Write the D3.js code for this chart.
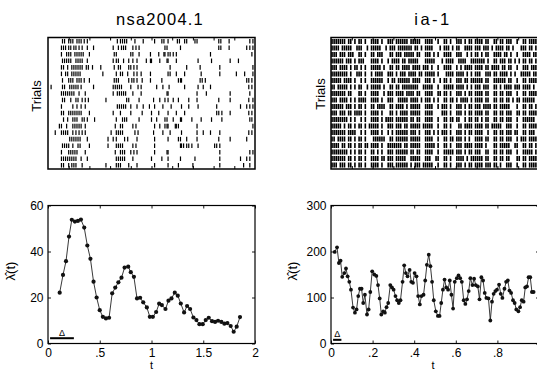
<!DOCTYPE html>
<html>
<head>
<meta charset="utf-8">
<script src="https://cdn.jsdelivr.net/npm/d3@7"></script>
<style>
  body { margin: 0; background: #fff; }
  svg { display: block; background: #fff; }
  text { font-family: "Liberation Sans", Arial, Helvetica, sans-serif; fill: #000; }
</style>
</head>
<body>
<svg id="plot" width="537" height="370"></svg>
<script>
// ---- data ----
const titles = ["nsa2004.1", "ia-1"];

// left raster: spike times (s) per trial
const leftSpikes = [
  [0.14,0.16,0.2,0.22,0.24,0.28,0.3,0.32,0.35,0.38,0.67,0.7,0.72,0.74,0.76,0.84,0.92,1.03,1.1,1.12,1.16,1.25,1.27,1.32,1.34,1.42,1.44,1.65,1.67,1.75,1.95,1.98],
  [0.13,0.15,0.17,0.2,0.22,0.25,0.27,0.3,0.33,0.38,0.44,0.63,0.68,0.71,0.73,0.75,0.82,0.85,0.88,1.13,1.15,1.28,1.65,1.67,1.75,1.92,1.95,1.98],
  [0.13,0.18,0.2,0.22,0.26,0.28,0.3,0.32,0.34,0.4,0.64,0.66,0.8,0.82,0.88,0.99,1.07,1.12,1.13,1.16,1.18,1.21,1.24,1.57,1.97],
  [0.14,0.16,0.18,0.2,0.22,0.27,0.29,0.31,0.33,0.38,0.63,0.66,0.68,0.73,0.78,0.82,0.86,0.95,0.99,1.0,1.08,1.15,1.16,1.24,1.45,1.58,1.76,1.84],
  [0.13,0.15,0.19,0.23,0.25,0.27,0.29,0.31,0.33,0.37,0.39,0.43,0.51,0.64,0.68,0.7,0.78,0.8,0.83,0.86,1.18,1.34,1.47,1.66,1.98],
  [0.13,0.17,0.19,0.23,0.25,0.27,0.29,0.31,0.53,0.66,0.7,0.72,0.77,0.83,0.86,0.9,0.99,1.16,1.18,1.24,1.32,1.48,1.66,1.82,1.9,1.98],
  [0.14,0.2,0.22,0.24,0.28,0.3,0.32,0.35,0.4,0.64,0.66,0.68,0.78,0.81,0.83,0.86,0.91,0.99,1.1,1.26,1.28,1.29,1.47,1.49,1.52,1.92,1.94,1.97],
  [0.03,0.14,0.16,0.21,0.23,0.25,0.27,0.29,0.32,0.44,0.63,0.65,0.67,0.69,0.71,0.8,0.87,0.9,1.05,1.11,1.17,1.32,1.45,1.5,1.57,1.94,1.97],
  [0.13,0.15,0.17,0.19,0.21,0.23,0.25,0.3,0.36,0.63,0.67,0.69,0.71,0.73,0.75,0.82,0.9,1.15,1.16,1.44,1.53,1.76,1.95],
  [0.14,0.16,0.22,0.27,0.29,0.33,0.36,0.39,0.56,0.76,0.78,0.88,1.02,1.08,1.13,1.16,1.21,1.26,1.36,1.44,1.65,1.76,1.94,1.98],
  [0.13,0.24,0.28,0.32,0.36,0.67,0.69,0.71,0.73,0.75,0.8,0.86,0.92,0.98,1.03,1.11,1.19,1.29,1.36,1.45,1.63,1.86,1.92,1.95,1.98],
  [0.13,0.15,0.2,0.22,0.24,0.26,0.28,0.3,0.32,0.4,0.63,0.7,0.8,0.91,1.0,1.07,1.16,1.24,1.32,1.63,1.65,1.68,1.76,1.94,1.97],
  [0.15,0.19,0.24,0.26,0.28,0.33,0.35,0.38,0.45,0.66,0.72,0.74,0.76,0.88,1.0,1.05,1.13,1.15,1.21,1.28,1.29,1.39,1.48,1.58,1.68,1.95,1.97],
  [0.11,0.13,0.18,0.24,0.26,0.28,0.3,0.32,0.36,0.65,0.7,0.72,0.82,0.85,1.03,1.08,1.13,1.15,1.16,1.23,1.24,1.26,1.44,1.98],
  [0.07,0.13,0.15,0.17,0.19,0.24,0.27,0.3,0.33,0.36,0.61,0.66,0.68,0.7,0.72,0.84,0.87,1.02,1.11,1.18,1.29,1.44,1.5,1.57,1.66,1.94,1.97],
  [0.21,0.23,0.25,0.27,0.29,0.31,0.38,0.58,0.63,0.66,0.74,0.77,0.86,1.03,1.16,1.26,1.28,1.34,1.44,1.65,1.76,1.92],
  [0.14,0.16,0.18,0.2,0.24,0.29,0.31,0.4,0.58,0.66,0.68,0.7,0.72,0.82,0.85,1.03,1.28,1.29,1.31,1.34,1.36,1.39,1.45,1.61,1.63,1.66],
  [0.13,0.2,0.22,0.24,0.26,0.28,0.36,0.65,0.7,0.72,0.74,0.8,0.83,0.86,1.03,1.15,1.16,1.66,1.95,1.98],
  [0.13,0.15,0.17,0.19,0.21,0.23,0.25,0.27,0.32,0.38,0.66,0.68,0.7,0.72,0.74,0.82,1.0,1.1,1.16,1.28,1.42,1.66,1.86,1.92,1.95],
  [0.13,0.15,0.2,0.23,0.25,0.27,0.33,0.56,0.66,0.68,0.7,0.78,0.86,1.03,1.16,1.26,1.4,1.66,1.89,1.95]
];

// right raster: one character per 10 ms bin, "|" = spike (spaces only group bins)
const rightSpikeBins = [
  "|||||||.|| .|.||.|..| |||.|..||| .||||||.|| |||..||||. .|..||.|.. |||.|.||.| |||.||..|| .||.|||..| ..||.|||||",
  "||||.||||| ..|||..|.| ||||..|.|| |.|||||||. ||.|.||||. ..|.|||.|. ||..||||.| ||.|||.|.| |||.||.|.. .|||.||.||",
  "|||.|||.|| |..||.|..| |.|||...|| .|||.||||| .||..|||.| .|..||||.. |||..|.|.| |.|.||..|| ||.||.|..| ..||||.|||",
  "||||||.||| .|.|||...| |||.|..|.| |||.||.||| ||...||||| ...|.||||. .||||..||| ||||.|..|| .|||.||.|. |.||.||.||",
  "|||.||||.| .||.|.|..| ||||.|..|| .||.||||.| |||.|||.|. .|..||||.. |.|.||||.| |||.||.||| |.||.||..| ..|||.||||",
  "||||||||.| ..|||.|..| .||||..||| .|.|||.||| |.||.||||| .|...||||. ||||.|.|.| ||..|||.|| .||||.|.|. .|||||.|||",
  "|||||.|||| .|..|.|..| |||||..|.| |.||||||.| |||..|||.| ..|.||.|.. |||.||.||| |||.||..|| ||||.||..| ..||.|||||",
  "||.|||||.| .|.||..|.| ||||.|..|| .||.|||||| ||..|||||. .|..|||||. ||||.|.|.| ||.|||..|| .|.||||.|| |.||||.|.|",
  "|||||||.|| ...||.|..| |||..|.||| .||||.|||| .||..||||. .||.||.|.. |||.|.||.| |||.||..|| .||.|||..| ..||.|||||",
  "|||.||||.| .|.||||..| |||.|..||| ..|||||.|| ||.|.|||.| .|..||.||. |.||||.|.| |||.||..|| .||.||.|.| |.||||||.|",
  "||||||.||| .|.||.|..| |.||||..|| .||||.|.|| |||..||||. .|.|||.|.. |||.|.||.| ||.||||.|| .|||||...| ..||.||.||",
  "|||.|||.|| .||||.|..| |||.|...|| .|.||||.|| |||..||||. ...|||.|.. |||.|.||.| |||.||..|| .||.|||..| |.||.|||||",
  "||||||||.| .|..|.|..| |||.|.|||| .||||||.|| .||..||||. .|..||.||. ||..|.||.| |.|.||..|| .||.|||..| ..||||||.|",
  "|||||.|.|| .|.||.|.|| |||.|..||| .|||.||.|| |||.|||||. .|..||.|.. .||.||||.| |||.||.||| ||..|||..| ..||.|||||",
  "|||||||.|| ||..|.|..| |||.|..|.| .||||||.|| |.|..|||.| .|.|||.|.. |||.|.||.| |||..|..|| .||.|||.|| ..||.|||.|",
  "||.||||.|| .|.||.|... ||||||..|| .||||||.|| |||..||||. .|..||.||. |||.|.|..| |||.||..|| .||.|||..| .|||.|||||",
  "||||.||.|| .|.||.||.| |||.|..||| ||||.||.|| |||..||||| .|..||.|.. |||.||||.| |||.|...|| .|||||..|| ..||.||.||",
  "||||||||.| .|.||.|..| |.|.|..||| .||||||.|| .||..||||. .|..|||||. |||.|.||.| ||..||..|| .||.|||..| ..|||||.||",
  "|||||||.|| .|.||.|..| |||.||.||| .|||||..|| |||..|||.. ||..||.|.. ||||.|.||| |||.||..|| .||.||...| |.||.|||||",
  "|||.|||.|| .|.||.|..| |||.|..||| .||||||.|. |||.|||||. .|..||.|.. |||.|.||.| |||.|||.|| .|..|||..| ..||.|||||"
];
const rightBinWidth = 0.01;

// estimated rates, left
const leftT = [0.113,0.145,0.174,0.203,0.23,0.26,0.289,0.318,0.35,0.38,0.41,0.44,0.47,0.5,0.53,0.56,0.59,0.62,0.65,0.68,
  0.71,0.74,0.775,0.8,0.83,0.86,0.89,0.92,0.955,0.984,1.013,1.045,1.074,1.1,1.135,1.164,1.193,1.225,1.254,1.283,
  1.315,1.344,1.373,1.405,1.434,1.463,1.495,1.524,1.553,1.585,1.614,1.643,1.675,1.704,1.733,1.765,1.794,1.823,1.855];
const leftRate = [22.1,29.8,35.8,46.5,53.8,53,53.3,53.9,50.4,42.6,36.8,26.9,20,14.5,11.6,10.9,11.2,21.8,24.3,26.6,
  28.6,33,33.4,31,29,19.6,19.9,17.9,15.7,11.6,11.6,13.7,17.3,16.7,15,18.6,19.6,22.1,20.8,17.4,
  13.5,16.3,15,11.3,10.2,8.4,8.4,10.2,11.2,9.7,9.4,9.9,9.4,8.6,8.9,7.6,5.1,7.3,11.5];

// estimated rates, right
const rightT = [0.018,0.029,0.038,0.046,0.054,0.064,0.072,0.08,0.088,0.096,
  0.106,0.115,0.123,0.131,0.139,0.147,0.155,0.163,0.173,0.181,
  0.189,0.198,0.208,0.218,0.226,0.234,0.242,0.251,0.259,0.267,
  0.275,0.285,0.293,0.301,0.31,0.318,0.326,0.334,0.344,0.352,
  0.36,0.368,0.378,0.386,0.394,0.402,0.411,0.419,0.427,0.435,
  0.445,0.453,0.461,0.47,0.478,0.486,0.494,0.504,0.514,0.522,
  0.53,0.538,0.546,0.554,0.563,0.571,0.579,0.587,0.595,0.605,
  0.613,0.621,0.629,0.638,0.646,0.654,0.662,0.67,0.68,0.688,
  0.696,0.706,0.714,0.723,0.731,0.739,0.747,0.757,0.766,0.774,
  0.782,0.79,0.798,0.808,0.816,0.824,0.834,0.842,0.85,0.858,
  0.866,0.875,0.883,0.891,0.901,0.909,0.917,0.926,0.934,0.942,
  0.95,0.958,0.966,0.974];
const rightRate = [199,209,175,180,145,153,163,146,134,117,
  78,67,74,103,119,119,88,106,63,74,
  112,157,150,147,127,98,63,70,67,79,
  88,127,122,117,103,94,88,94,134,170,
  153,146,160,134,132,153,146,103,85,103,
  106,137,171,193,168,134,94,70,60,60,
  88,117,139,122,117,137,106,76,134,142,
  148,142,134,94,86,96,114,142,127,141,
  127,124,96,144,137,110,99,98,50,91,
  108,114,117,128,108,99,119,134,137,115,
  110,94,88,74,70,79,94,91,122,124,
  144,144,112,112];

const leftXTicks = [0, 0.5, 1, 1.5, 2];
const leftXLabels = ["0", ".5", "1", "1.5", "2"];
const leftYTicks = [0, 20, 40, 60];
const rightXTicks = [0, 0.2, 0.4, 0.6, 0.8];
const rightXLabels = ["0", ".2", ".4", ".6", ".8"];
const rightYTicks = [0, 100, 200, 300];
const leftRasterTicks = [0.2, 0.4, 0.6, 0.8, 1, 1.2, 1.4, 1.6, 1.8];
const rightRasterTicks = [0.1, 0.2, 0.3, 0.4, 0.5, 0.6, 0.7, 0.8, 0.9];
const leftDelta = [0.02, 0.25, 2.3];   // start, end, level
const rightDelta = [0.01, 0.05, 8];

// right raster rows -> spike times
const rightSpikes = rightSpikeBins.map((row) =>
  row.replace(/ /g, "").split("")
    .map((c, i) => (c === "|" ? (i + 0.5) * rightBinWidth : null))
    .filter((v) => v !== null)
);

// ---- drawing ----
const svg = d3.select("#plot");
const font = '"Liberation Sans", Arial, Helvetica, sans-serif';

const rasterTop = 37.5, rasterBottom = 169;
const plotTop = 205.5, plotBottom = 343.5;

function box(g, x0, x1, y0, y1, w) {
  g.append("rect")
    .attr("x", x0).attr("y", y0)
    .attr("width", x1 - x0).attr("height", y1 - y0)
    .attr("fill", "none").attr("stroke", "#000").attr("stroke-width", w);
}

function panel(p) {
  const g = svg.append("g");
  const x = d3.scaleLinear().domain(p.xDomain).range([p.x0, p.x1]);

  // raster
  const rows = d3.scaleBand()
    .domain(d3.range(p.spikes.length))
    .range([rasterTop + 0.8, rasterBottom - 0.8])
    .paddingInner(p.rowPad).paddingOuter(0.1);

  g.append("g")
    .selectAll("g")
    .data(p.spikes)
    .join("g")
    .each(function (trial, i) {
      d3.select(this).selectAll("line")
        .data(trial)
        .join("line")
        .attr("x1", (d) => x(d)).attr("x2", (d) => x(d))
        .attr("y1", rows(i)).attr("y2", rows(i) + rows.bandwidth())
        .attr("stroke", "#000").attr("stroke-width", p.spikeWidth);
    });

  g.append("g")
    .attr("transform", `translate(0,${rasterBottom})`)
    .call(d3.axisBottom(x).tickValues(p.rasterTicks).tickSize(-3).tickFormat(""))
    .call((a) => a.select(".domain").remove());
  g.append("g")
    .attr("transform", `translate(0,${rasterTop})`)
    .call(d3.axisTop(x).tickValues(p.rasterTicks).tickSize(-3).tickFormat(""))
    .call((a) => a.select(".domain").remove());
  box(g, p.x0, p.x1, rasterTop, rasterBottom, 1.5);

  g.append("text")
    .attr("x", p.titleX).attr("y", 25)
    .attr("text-anchor", "middle")
    .attr("font-size", 16.5)
    .attr("letter-spacing", p.titleSpacing)
    .text(p.title);

  g.append("text")
    .attr("transform", `translate(${p.trialsX},${p.trialsY}) rotate(-90)`)
    .attr("text-anchor", "middle")
    .attr("font-size", 13)
    .text("Trials");

  // rate plot
  const y = d3.scaleLinear().domain(p.yDomain).range([plotBottom, plotTop]);

  const styleAxis = (a) => {
    a.select(".domain").remove();
    a.attr("font-size", 12).attr("font-family", font);
    a.selectAll("line").attr("stroke-width", 0.9);
  };

  g.append("g")
    .attr("transform", `translate(0,${plotBottom})`)
    .call(d3.axisBottom(x).tickValues(p.xTicks).tickSize(-3).tickPadding(4.5)
      .tickFormat((d, i) => p.xLabels[i]))
    .call(styleAxis);
  g.append("g")
    .attr("transform", `translate(0,${plotTop})`)
    .call(d3.axisTop(x).tickValues(p.xTicks).tickSize(-3).tickFormat(""))
    .call(styleAxis);
  g.append("g")
    .attr("transform", `translate(${p.x0},0)`)
    .call(d3.axisLeft(y).tickValues(p.yTicks).tickSize(-3).tickPadding(4.5))
    .call(styleAxis);
  g.append("g")
    .attr("transform", `translate(${p.x1},0)`)
    .call(d3.axisRight(y).tickValues(p.yTicks).tickSize(-3).tickFormat(""))
    .call(styleAxis);

  const pts = p.t.map((t, i) => [t, p.rate[i]]);
  g.append("path")
    .datum(pts)
    .attr("fill", "none")
    .attr("stroke", "#222")
    .attr("stroke-width", 0.9)
    .attr("d", d3.line().x((d) => x(d[0])).y((d) => y(d[1])));
  g.append("g")
    .selectAll("circle")
    .data(pts)
    .join("circle")
    .attr("cx", (d) => x(d[0]))
    .attr("cy", (d) => y(d[1]))
    .attr("r", p.dotR)
    .attr("fill", "#111");

  // delta bar
  g.append("line")
    .attr("x1", x(p.delta[0])).attr("x2", x(p.delta[1]))
    .attr("y1", y(p.delta[2])).attr("y2", y(p.delta[2]))
    .attr("stroke", "#000").attr("stroke-width", 2);
  g.append("text")
    .attr("x", x((p.delta[0] + p.delta[1]) / 2))
    .attr("y", y(p.delta[2]) - 2.5)
    .attr("text-anchor", "middle")
    .attr("font-size", 9)
    .text("\u0394");

  box(g, p.x0, p.x1, plotTop, plotBottom, 1.2);

  g.append("text")
    .attr("transform", `translate(${p.lamX},271) rotate(-90)`)
    .attr("text-anchor", "middle")
    .attr("font-size", 13)
    .text("\u03BB\u0302(t)");

  g.append("text")
    .attr("x", p.tX)
    .attr("y", 369.3)
    .attr("text-anchor", "middle")
    .attr("font-size", 11)
    .text("t");
}

panel({
  title: titles[0], titleX: 160, titleSpacing: 1.2,
  x0: 48, x1: 255, xDomain: [0, 2],
  spikes: leftSpikes, spikeWidth: 1.2, rowPad: 0.3, rasterTicks: leftRasterTicks,
  trialsX: 41, trialsY: 96,
  yDomain: [0, 60], xTicks: leftXTicks, xLabels: leftXLabels, yTicks: leftYTicks,
  t: leftT, rate: leftRate, dotR: 2.1, delta: leftDelta, lamX: 15, tX: 151.5
});

panel({
  title: titles[1], titleX: 433, titleSpacing: 2.5,
  x0: 331, x1: 539, xDomain: [0, 1],
  spikes: rightSpikes, spikeWidth: 1.6, rowPad: 0.22, rasterTicks: rightRasterTicks,
  trialsX: 325, trialsY: 94,
  yDomain: [0, 300], xTicks: rightXTicks, xLabels: rightXLabels, yTicks: rightYTicks,
  t: rightT, rate: rightRate, dotR: 1.9, delta: rightDelta, lamX: 297, tX: 433
});
</script>
</body>
</html>
